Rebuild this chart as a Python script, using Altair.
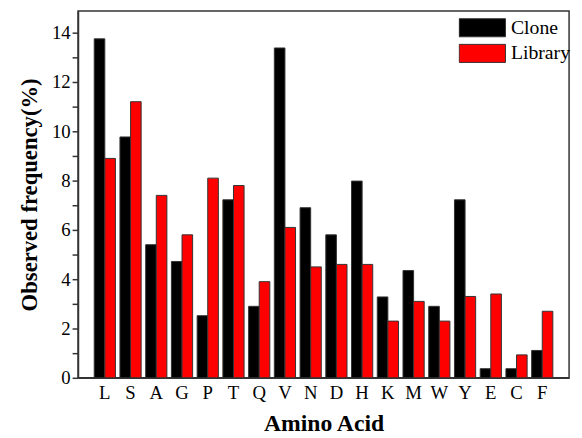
import altair as alt
import pandas as pd

amino = ["L", "S", "A", "G", "P", "T", "Q", "V", "N", "D", "H", "K", "M", "W", "Y", "E", "C", "F"]
clone = [13.75, 9.77, 5.4, 4.72, 2.52, 7.22, 2.9, 13.38, 6.9, 5.8, 7.98, 3.28, 4.35, 2.9, 7.22, 0.37, 0.37, 1.11]
library = [8.9, 11.2, 7.4, 5.8, 8.1, 7.8, 3.9, 6.1, 4.5, 4.6, 4.6, 2.3, 3.1, 2.3, 3.3, 3.4, 0.93, 2.7]
series = ["Clone", "Library"]
colors = ["#000000", "#ff0000"]
y_ticks = list(range(0, 15))

rows = []
for i, a in enumerate(amino):
    rows.append({"aa": a, "series": series[0], "value": clone[i]})
    rows.append({"aa": a, "series": series[1], "value": library[i]})
df = pd.DataFrame(rows)

FONT = "Liberation Serif, Times New Roman, DejaVu Serif, serif"

chart = alt.Chart(df).mark_bar(stroke="#333333", strokeWidth=1).encode(
    x=alt.X("aa:N", sort=amino,
            scale=alt.Scale(paddingInner=0.176, paddingOuter=0.63),
            axis=alt.Axis(title="Amino Acid", labelAngle=0, ticks=False,
                          labelFontSize=19, labelPadding=6,
                          titleFontSize=24, titleFontWeight="bold", titlePadding=9)),
    xOffset=alt.XOffset("series:N", sort=series, scale=alt.Scale(paddingInner=0, paddingOuter=0)),
    y=alt.Y("value:Q", scale=alt.Scale(domain=[0, 14.88], nice=False, zero=True),
            axis=alt.Axis(title="Observed frequency(%)", values=y_ticks,
                          labelExpr="datum.value % 2 == 0 ? datum.label : ''",
                          tickSize=6, labelPadding=2, labelFontSize=19,
                          titleFontSize=23, titleFontWeight="bold", titlePadding=10,
                          grid=False)),
    color=alt.Color("series:N", sort=series,
                    scale=alt.Scale(domain=series, range=colors),
                    legend=alt.Legend(title=None, orient="none", legendX=386, legendY=4,
                                      symbolType="M-1,-0.39H1V0.39H-1Z", symbolSize=2209,
                                      symbolStrokeColor="#333333", symbolStrokeWidth=1,
                                      clipHeight=26, rowPadding=0, labelOffset=5,
                                      labelFontSize=20, padding=0,
                                      symbolOpacity=1)),
).properties(
    width=498, height=372,
    autosize=alt.AutoSizeParams(type="none"),
    padding={"left": 71, "top": 0, "right": 5, "bottom": 58},
).configure(
    font=FONT,
).configure_axis(
    labelFont=FONT, titleFont=FONT, labelColor="#000", titleColor="#000",
    domainColor="#333333", domainWidth=1.5, tickColor="#333333", tickWidth=1.5,
).configure_legend(
    labelFont=FONT, labelColor="#000",
).configure_view(
    stroke="#333333", strokeWidth=1.5,
)

chart.save("out.html", embed_options={"renderer": "svg", "actions": False})
